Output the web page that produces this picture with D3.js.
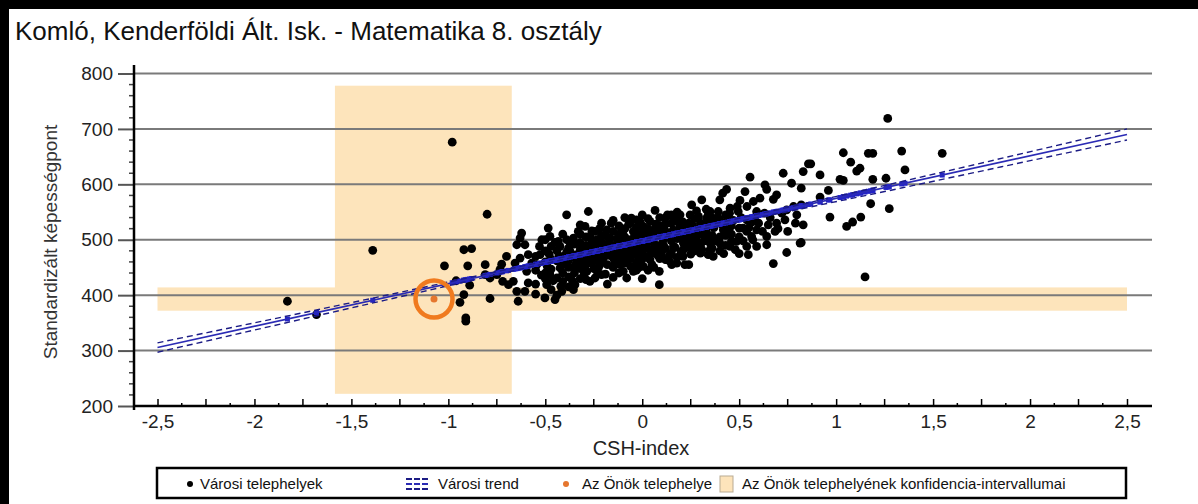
<!DOCTYPE html>
<html lang="hu">
<head>
<meta charset="UTF-8">
<title>Komló - Matematika 8. osztály</title>
<script src="https://cdn.jsdelivr.net/npm/d3@7"></script>
<style>
	body { margin: 0; background: #fff; }
	svg { display: block; font-family: "Liberation Sans", Arial, sans-serif; }
</style>
</head>
<body>
<svg></svg>
<script>
	var titleText = 'Komló, Kenderföldi Ált. Isk. - Matematika 8. osztály';
	var xTitle = 'CSH-index';
	var yTitle = 'Standardizált képességpont';

	var xTicks = [-2.5, -2, -1.5, -1, -0.5, 0, 0.5, 1, 1.5, 2, 2.5];
	var xTickLabels = ['-2,5', '-2', '-1,5', '-1', '-0,5', '0', '0,5', '1', '1,5', '2', '2,5'];
	var yTicks = [200, 300, 400, 500, 600, 700, 800];

	// városi telephelyek: [CSH-index, képességpont]
	var cityPoints = [
		[-1.83, 389], [-1.68, 365], [-1.39, 481], [-0.98, 676], [-0.80, 546], [-0.92, 482], [-0.88, 484],
		[-1.02, 453], [-0.90, 453], [-0.96, 426], [-0.89, 418], [-0.92, 401], [-0.94, 387], [-0.91, 359], [-0.91, 353],
		[-0.81, 455], [-0.785, 394], [-0.725, 456], [-0.70, 470], [-0.734, 446], [-0.75, 437], [-0.81, 437],
		[-0.785, 431], [-0.72, 425], [-0.69, 419], [-0.665, 425], [-0.647, 407], [-0.64, 389], [-0.605, 407],
		[-0.588, 422], [-0.656, 458], [-0.63, 467], [-0.622, 512], [-0.63, 503], [-0.647, 491], [-0.605, 491],
		[-0.588, 473], [-0.57, 458], [-0.596, 443], [-0.544, 455], [-0.527, 473], [-0.518, 500], [-0.485, 521],
		[-0.476, 506], [-0.39, 545], [-0.278, 551], [-0.32, 527], [-0.295, 524], [-0.493, 419], [-0.502, 395],
		[-0.45, 392], [-0.415, 407], [-0.355, 410], [-0.347, 419], [-0.476, 437], [-0.44, 431], [-0.424, 449],
		[-0.433, 497], [-0.424, 488], [-0.39, 500], [-0.355, 503], [-0.372, 479], [-0.338, 473], [-0.32, 461],
		[-0.286, 443], [-0.27, 425], [-0.244, 431], [-0.227, 449], [-0.21, 437], [-0.2, 467], [-0.244, 515],
		[-0.235, 500], [-0.183, 518], [-0.166, 503], [-0.132, 488], [-0.149, 467], [-0.115, 455], [-0.098, 443],
		[-0.08, 431], [-0.063, 530], [-0.046, 515], [-0.037, 497], [-0.028, 473], [-0.02, 449],
		[-0.55, 470], [-0.55, 445], [-0.55, 420], [-0.55, 402],
		[-0.5, 500], [-0.5, 480], [-0.5, 460], [-0.5, 440], [-0.5, 430],
		[-0.47, 488], [-0.47, 465], [-0.47, 447], [-0.47, 410],
		[-0.44, 480], [-0.44, 462], [-0.44, 400],
		[-0.41, 510], [-0.41, 470], [-0.41, 455], [-0.41, 440], [-0.41, 425],
		[-0.38, 485], [-0.38, 463], [-0.38, 450], [-0.38, 433], [-0.38, 415],
		[-0.35, 492], [-0.35, 468], [-0.35, 452], [-0.35, 440],
		[-0.32, 510], [-0.32, 495], [-0.32, 482], [-0.32, 448], [-0.32, 430],
		[-0.29, 505], [-0.29, 490], [-0.29, 478], [-0.29, 466], [-0.29, 455], [-0.29, 428],
		[-0.26, 516], [-0.26, 498], [-0.26, 485], [-0.26, 470], [-0.26, 458],
		[-0.23, 489], [-0.23, 477], [-0.23, 465], [-0.23, 440],
		[-0.21, 530], [-0.21, 508], [-0.21, 495], [-0.21, 483], [-0.21, 472], [-0.21, 460],
		[-0.18, 505], [-0.18, 492], [-0.18, 480], [-0.18, 455], [-0.18, 420],
		[-0.15, 535], [-0.15, 515], [-0.15, 490], [-0.15, 478], [-0.15, 450], [-0.15, 432],
		[-0.12, 525], [-0.12, 510], [-0.12, 496], [-0.12, 474], [-0.12, 462], [-0.12, 440],
		[-0.09, 540], [-0.09, 520], [-0.09, 505], [-0.09, 494], [-0.09, 482], [-0.09, 470], [-0.09, 458],
		[-0.06, 500], [-0.06, 490], [-0.06, 478], [-0.06, 466], [-0.06, 452],
		[-0.03, 522], [-0.03, 510], [-0.03, 486], [-0.03, 445],
		[0, 545], [0, 524], [0, 512], [0, 502], [0, 490], [0, 478], [0, 465], [0, 430],
		[0.03, 538], [0.03, 520], [0.03, 508], [0.03, 496], [0.03, 484], [0.03, 470], [0.03, 445],
		[0.06, 518], [0.06, 505], [0.06, 494], [0.06, 482], [0.06, 450],
		[0.09, 540], [0.09, 525], [0.09, 512], [0.09, 490], [0.09, 478], [0.09, 466],
		[0.12, 528], [0.12, 515], [0.12, 505], [0.12, 484], [0.12, 464],
		[0.15, 545], [0.15, 530], [0.15, 508], [0.15, 498], [0.15, 476],
		[0.18, 550], [0.18, 535], [0.18, 512], [0.18, 502], [0.18, 468],
		[0.21, 532], [0.21, 510], [0.21, 500], [0.21, 470],
		[0.24, 530], [0.24, 496], [0.24, 486], [0.24, 455],
		[0.27, 538], [0.27, 514], [0.27, 503], [0.27, 492], [0.27, 480],
		[0.30, 530], [0.30, 510], [0.30, 490], [0.30, 476],
		[0.33, 555], [0.33, 528], [0.33, 516], [0.33, 505],
		[0.36, 540], [0.36, 530], [0.36, 508], [0.36, 485],
		[0.40, 536], [0.40, 505], [0.40, 480],
		[0.43, 545], [0.43, 530], [0.43, 508], [0.43, 490],
		[0.46, 525], [0.46, 510], [0.46, 497],
		[0.50, 521], [0.50, 505], [0.50, 475],
		[-0.53, 488], [-0.52, 436], [-0.49, 452], [-0.48, 474], [-0.46, 426], [-0.45, 495], [-0.43, 470],
		[-0.42, 416], [-0.40, 460], [-0.39, 478], [-0.37, 492], [-0.36, 426], [-0.34, 458], [-0.33, 515],
		[-0.31, 472], [-0.30, 438], [-0.28, 482], [-0.27, 506], [-0.25, 448], [-0.24, 470], [-0.22, 520],
		[-0.22, 454], [-0.20, 488], [-0.19, 438], [-0.17, 472], [-0.16, 530], [-0.14, 458], [-0.13, 502],
		[-0.11, 480], [-0.10, 515], [-0.08, 462], [-0.07, 528], [-0.05, 484], [-0.04, 506], [-0.02, 462],
		[-0.01, 532], [0.01, 470], [0.02, 495], [0.04, 512], [0.05, 455], [0.07, 528], [0.08, 472],
		[0.10, 510], [0.11, 490], [0.13, 545], [0.14, 462], [0.16, 518], [0.17, 486], [0.19, 530],
		[0.20, 478], [0.22, 520], [0.23, 508], [0.25, 474], [0.26, 525], [0.28, 552], [0.29, 488],
		[0.31, 518], [0.32, 498], [0.34, 545], [0.35, 482], [0.37, 522], [0.38, 498], [0.39, 540],
		[0.41, 528], [0.42, 475], [0.44, 518], [0.45, 548], [0.47, 535], [0.48, 482], [0.49, 560],
		[0.51, 540], [0.52, 498], [0.54, 560], [0.55, 522], [0.57, 500], [0.58, 540], [0.60, 530],
		[0.62, 515], [0.63, 548], [0.66, 540], [0.70, 520], [0.72, 548], [0.75, 515], [0.79, 530],
		[0.088, 419], [0.088, 443], [0.066, 553], [0.255, 563], [0.307, 572], [0.40, 572], [0.435, 591],
		[0.415, 584], [0.53, 587], [0.556, 613], [0.633, 599], [0.642, 591], [0.693, 581], [0.727, 620],
		[0.83, 623], [0.857, 637], [0.77, 602], [0.82, 593], [0.676, 573], [0.504, 571], [0.573, 569],
		[0.607, 575], [0.495, 551], [0.453, 557], [0.392, 551], [0.35, 551], [0.332, 539], [0.375, 530],
		[0.29, 542], [0.247, 545], [0.195, 545], [0.161, 539], [0.117, 539], [0.108, 524], [0.195, 524],
		[0.238, 518], [0.298, 521], [0.418, 518], [0.453, 536], [0.539, 536], [0.59, 551], [0.564, 532],
		[0.52, 521], [0.65, 527], [0.693, 530], [0.736, 536], [0.745, 554], [0.78, 560], [0.797, 545],
		[0.83, 527], [0.685, 515], [0.642, 506], [0.59, 518], [0.564, 506], [0.539, 515], [0.59, 488],
		[0.642, 491], [0.745, 477], [0.814, 494], [0.676, 457], [0.547, 473], [0.539, 488], [0.487, 497],
		[0.453, 488], [0.366, 470], [0.34, 473], [0.307, 482], [0.35, 494], [0.40, 494], [0.28, 500],
		[0.247, 506], [0.212, 494], [0.212, 482], [0.161, 488], [0.108, 500], [0.143, 473], [0.178, 458],
		[0.22, 455], [0.152, 455], [0.126, 464], [0.1, 473], [0.057, 476], [0.04, 464], [0.005, 452],
		[-0.03, 458], [-0.046, 443], [0.04, 533], [0.005, 524], [-0.03, 536], [-0.056, 539],
		[1.266, 719], [1.037, 657], [1.166, 656], [1.189, 656], [1.338, 660], [1.547, 656], [0.869, 637],
		[1.075, 640], [1.123, 629], [1.106, 624], [0.917, 617], [1.355, 626], [1.02, 609], [1.037, 607],
		[1.189, 609], [1.257, 611], [0.96, 589], [0.917, 577], [0.82, 563], [1.178, 565], [1.274, 556],
		[0.968, 541], [1.054, 524], [1.085, 532], [1.127, 541], [0.82, 495], [1.149, 433]
	];

	// városi trend és konfidencia-sáv
	var trendX = [-2.5, 2.5];
	var trendY = [305.5, 690];
	var ciX = [-2.5, -1.25, 0, 1.25, 2.5];
	var ciUpper = [314, 405, 500, 598, 700];
	var ciLower = [297, 397, 496, 587, 680];

	// az Önök telephelye
	var schoolX = -1.074;
	var schoolY = 393;
	var schoolCiX = [-1.585, -0.673];
	var schoolCiY = [372, 414];
	var bandY = [222, 778];
	var bandX = [-2.5, 2.5];

	var legendLabels = ['Városi telephelyek', 'Városi trend', 'Az Önök telephelye', 'Az Önök telephelyének konfidencia-intervallumai'];

	var svg = d3.select('svg')
		.attr('width', 1198)
		.attr('height', 504);

	var x = d3.scaleLinear().domain([-2.5, 2.5]).range([157.5, 1127]);
	var y = d3.scaleLinear().domain([200, 800]).range([406, 73.5]);
	var plotLeft = 134, plotRight = 1152;

	// keret
	svg.append('rect').attr('x', 0).attr('y', 0).attr('width', 9).attr('height', 504).attr('fill', '#000');
	svg.append('rect').attr('x', 0).attr('y', 0).attr('width', 1198).attr('height', 9).attr('fill', '#000');

	svg.append('text')
		.attr('x', 15)
		.attr('y', 40)
		.style('font-size', '26px')
		.attr('fill', '#111')
		.text(titleText);

	// konfidencia-intervallumok
	var bandColor = '#fde4bb';
	svg.append('rect')
		.attr('x', x(bandX[0]))
		.attr('y', y(schoolCiY[1]))
		.attr('width', x(bandX[1]) - x(bandX[0]))
		.attr('height', y(schoolCiY[0]) - y(schoolCiY[1]))
		.attr('fill', bandColor);
	svg.append('rect')
		.attr('x', x(schoolCiX[0]))
		.attr('y', y(bandY[1]))
		.attr('width', x(schoolCiX[1]) - x(schoolCiX[0]))
		.attr('height', y(bandY[0]) - y(bandY[1]))
		.attr('fill', bandColor);

	// rácsvonalak
	svg.append('g')
		.selectAll('line')
		.data(yTicks.slice(1))
		.enter()
		.append('line')
		.attr('x1', plotLeft)
		.attr('x2', plotRight)
		.attr('y1', function (d) { return y(d); })
		.attr('y2', function (d) { return y(d); })
		.attr('stroke', '#7a7a7a')
		.attr('stroke-width', 2);

	// pontok
	svg.append('g')
		.selectAll('circle')
		.data(cityPoints)
		.enter()
		.append('circle')
		.attr('cx', function (d) { return x(d[0]); })
		.attr('cy', function (d) { return y(d[1]); })
		.attr('r', 4.4)
		.attr('fill', '#000');

	// trend
	var trend = d3.scaleLinear().domain(trendX).range(trendY);
	svg.append('g')
		.selectAll('rect')
		.data(cityPoints)
		.enter()
		.append('rect')
		.attr('x', function (d) { return x(d[0]) - 2.5; })
		.attr('y', function (d) { return y(trend(d[0])) - 2.5; })
		.attr('width', 5)
		.attr('height', 5)
		.attr('fill', '#2323c8');

	var line = d3.line()
		.x(function (d) { return x(d[0]); })
		.y(function (d) { return y(d[1]); });

	svg.append('path')
		.datum(d3.zip(trendX, trendY))
		.attr('fill', 'none')
		.attr('stroke', '#2b2bb5')
		.attr('stroke-width', 1.6)
		.attr('d', line);

	var ciLine = d3.line()
		.x(function (d) { return x(d[0]); })
		.y(function (d) { return y(d[1]); })
		.curve(d3.curveMonotoneX);

	[ciUpper, ciLower].forEach(function (vals) {
		svg.append('path')
			.datum(d3.zip(ciX, vals))
			.attr('fill', 'none')
			.attr('stroke', '#1c1c85')
			.attr('stroke-width', 1.4)
			.attr('stroke-dasharray', '6,4')
			.attr('d', ciLine);
	});

	// az Önök telephelye
	svg.append('circle')
		.attr('cx', x(schoolX))
		.attr('cy', y(schoolY))
		.attr('r', 18.5)
		.attr('fill', 'none')
		.attr('stroke', '#f07a1e')
		.attr('stroke-width', 4.5);
	svg.append('circle')
		.attr('cx', x(schoolX))
		.attr('cy', y(schoolY))
		.attr('r', 3.5)
		.attr('fill', '#e5762e');

	// tengelyek
	var xAxis = svg.append('g')
		.attr('transform', 'translate(0,' + y(200) + ')')
		.call(d3.axisBottom(x)
			.tickValues(xTicks)
			.tickFormat(function (d, i) { return xTickLabels[i]; })
			.tickSizeInner(-7)
			.tickSizeOuter(0)
			.tickPadding(9));
	xAxis.select('.domain').remove();
	xAxis.selectAll('text').style('font-size', '19px').attr('fill', '#222').attr('font-family', null);
	xAxis.selectAll('.tick line').attr('stroke', '#000').attr('stroke-width', 1.5);

	var minorX = d3.range(-2.5, 2.5001, 0.125).filter(function (v) { return Math.abs(v * 2 - Math.round(v * 2)) > 1e-6; });
	svg.append('g')
		.selectAll('line')
		.data(minorX)
		.enter()
		.append('line')
		.attr('x1', function (d) { return x(d); })
		.attr('x2', function (d) { return x(d); })
		.attr('y1', y(200))
		.attr('y2', function (d) { return y(200) - (Math.abs(d * 4 - Math.round(d * 4)) < 1e-6 ? 7 : 3); })
		.attr('stroke', '#000')
		.attr('stroke-width', 1.5);

	svg.append('line')
		.attr('x1', plotLeft).attr('x2', plotRight)
		.attr('y1', y(200)).attr('y2', y(200))
		.attr('stroke', '#000').attr('stroke-width', 2.5);

	var yAxis = svg.append('g')
		.attr('transform', 'translate(' + plotLeft + ',0)')
		.call(d3.axisLeft(y).tickValues(yTicks).tickSize(16).tickPadding(5));
	yAxis.select('.domain').remove();
	yAxis.selectAll('text').style('font-size', '19px').attr('fill', '#222').attr('font-family', null);
	yAxis.selectAll('.tick line').attr('stroke', '#555').attr('stroke-width', 2);

	svg.append('g')
		.selectAll('line')
		.data(d3.range(220, 800, 20).filter(function (v) { return v % 100 !== 0; }))
		.enter()
		.append('line')
		.attr('x1', plotLeft - 5).attr('x2', plotLeft)
		.attr('y1', function (d) { return y(d); })
		.attr('y2', function (d) { return y(d); })
		.attr('stroke', '#444').attr('stroke-width', 1.5);

	svg.append('line')
		.attr('x1', plotLeft).attr('x2', plotLeft)
		.attr('y1', 65).attr('y2', 410)
		.attr('stroke', '#000').attr('stroke-width', 2.5);

	svg.append('text')
		.attr('x', 641)
		.attr('y', 455)
		.attr('text-anchor', 'middle')
		.style('font-size', '20px')
		.attr('fill', '#222')
		.text(xTitle);

	svg.append('text')
		.attr('transform', 'translate(50,242) rotate(-90)')
		.attr('text-anchor', 'middle')
		.attr('dominant-baseline', 'central')
		.style('font-size', '19px')
		.attr('fill', '#333')
		.text(yTitle);

	// jelmagyarázat
	var lg = svg.append('g');
	lg.append('rect')
		.attr('x', 157).attr('y', 468)
		.attr('width', 969).attr('height', 30)
		.attr('fill', '#fff').attr('stroke', '#000').attr('stroke-width', 2.5);

	var ly = 484;
	lg.append('circle').attr('cx', 190).attr('cy', ly).attr('r', 3).attr('fill', '#000');
	[-5, 5].forEach(function (o) {
		lg.append('line').attr('x1', 406).attr('x2', 428).attr('y1', ly + o).attr('y2', ly + o)
			.attr('stroke', '#1c1c85').attr('stroke-width', 2).attr('stroke-dasharray', '6,2');
	});
	lg.append('line').attr('x1', 406).attr('x2', 428).attr('y1', ly).attr('y2', ly)
		.attr('stroke', '#2b2bb5').attr('stroke-width', 2).attr('stroke-dasharray', '6,2');
	lg.append('circle').attr('cx', 566).attr('cy', ly).attr('r', 3).attr('fill', '#e5762e');
	lg.append('rect').attr('x', 720).attr('y', 476).attr('width', 13).attr('height', 16)
		.attr('fill', bandColor).attr('stroke', '#b9ab93').attr('stroke-width', 1);

	var labelX = [200, 438, 582, 742];
	lg.selectAll('text.lab')
		.data(legendLabels)
		.enter()
		.append('text')
		.attr('class', 'lab')
		.attr('x', function (d, i) { return labelX[i]; })
		.attr('y', 489)
		.style('font-size', '15px')
		.attr('fill', '#111')
		.text(function (d) { return d; });
</script>
</body>
</html>
